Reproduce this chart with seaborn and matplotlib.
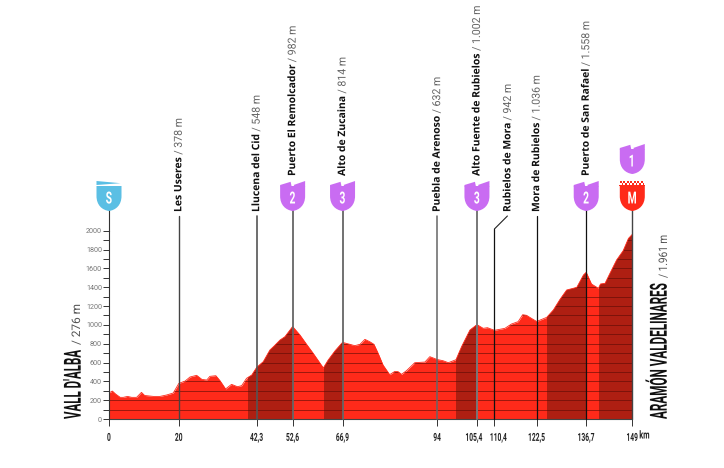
import numpy as np
import matplotlib
matplotlib.use("Agg")
import matplotlib.pyplot as plt
import seaborn as sns
from matplotlib.patches import PathPatch, Polygon, Rectangle
from matplotlib.path import Path
from matplotlib.patheffects import AbstractPathEffect
from matplotlib.transforms import Affine2D, Bbox

# Profile
km = [0, 0.95, 1.9, 3.2, 4.1, 5.3, 6.5, 7.9, 9.3, 10.2, 12.7, 14.6, 16.5, 18.4, 20,
      21.8, 23.2, 25.1, 26.6, 28, 28.9, 30.6, 31.8, 33.4, 35.1, 36.8, 38, 39.4, 40.9, 42.3,
      44.2, 46.1, 47.3, 49, 50.4, 52.6, 54.7, 56.6, 58.5, 61.4, 62.8, 64.8, 66.9, 69,
      70.4, 71.9, 73.3, 74.7, 75.9, 77.1, 78.5, 80.4, 81.9, 82.8, 83.8, 85.2, 87.6, 90.5,
      91.9, 94, 95.7, 97.2, 99.4, 101, 103.4, 105.4, 107.2, 108.4, 110.4, 113.4, 115.3,
      117.2, 118.5, 119.6, 121, 122.5, 125.4, 127.3, 129.2, 131.1, 134, 135.9, 136.7,
      138.2, 140.2, 140.8, 142.1, 143.5, 145.4, 147.3, 148.8, 149.9]
elevation = [276, 297, 265, 230, 230, 240, 230, 230, 283, 250, 240, 240, 255, 276, 378,
             403, 446, 464, 421, 414, 453, 460, 407, 319, 368, 343, 354, 432, 467, 548,
             609, 733, 775, 839, 874, 982, 892, 793, 697, 542, 627, 726, 814, 793,
             779, 793, 846, 821, 793, 697, 573, 471, 506, 503, 474, 513, 598, 605,
             662, 632, 619, 598, 630, 768, 945, 1002, 963, 970, 942, 963, 1009,
             1034, 1108, 1101, 1069, 1036, 1080, 1158, 1271, 1370, 1398, 1529, 1558,
             1434, 1388, 1434, 1441, 1547, 1688, 1788, 1918, 1961]

climb_start = [39.8, 61.5, 99.4, 125.5, 140.3]
climb_end = [52.6, 66.9, 105.4, 136.7, 149.9]

tick_km = [0, 20, 42.3, 52.6, 66.9, 94, 105.4, 110.4, 122.5, 136.7, 149.9]
tick_labels = ["0", "20", "42,3", "52,6", "66,9", "94", "105,4", "110,4", "122,5", "136,7", "149"]
tick_nudge = [0, 0, 0, 0, 0, 0, -3, 4, 0, 0, 0]

place_names = ["Les Useres", "Llucena del Cid", "Puerto El Remolcador", "Alto de Zucaina",
               "Puebla de Arenoso", "Alto Fuente de Rubielos", "Rubielos de Mora",
               "Mora de Rubielos", "Puerto de San Rafael"]
place_heights = ["/ 378 m", "/ 548 m", "/ 982 m", "/ 814 m", "/ 632 m", "/ 1.002 m",
                 "/ 942 m", "/ 1.036 m", "/ 1.558 m"]
place_km = [20, 42.3, 52.6, 66.9, 94, 105.4, 110.4, 122.5, 136.7]
place_base = [212, 212, 176, 176, 212, 176, 212, 212, 176]
place_line_top = [216, 216, 205, 205, 216, 205, 229, 216, 205]
line_colors = ["#444444", "#555555", "#666666", "#666666", "#666666", "#777777", "#111111", "#111111", "#111111"]
line_widths = [1.0, 1.2, 1.3, 1.3, 1.1, 1.4, 0.9, 0.9, 0.9]

badge_km = [0, 52.6, 66.9, 105.4, 136.7, 149.9, 149.9]
badge_text = ["S", "2", "3", "3", "2", "1", "M"]
badge_top = [181, 181, 181, 181, 181, 144, 181]

BLUE = "#5bbfe4"
PURPLE = "#c96cf2"
RED = "#ff2a1a"
DARK = "#ae1f12"

sns.set_style("white")
plt.rcParams["font.family"] = ["Roboto", "DejaVu Sans"]

fig = plt.figure(figsize=(7.24, 4.68), dpi=100)
ax = fig.add_axes([109 / 724, 49 / 468, 523.3 / 724, 188.3 / 468])

# reference picture pixels, y going down
px = Affine2D().scale(1, -1).translate(0, 468)


class Squeeze(AbstractPathEffect):
    # no condensed font installed, so narrow the glyphs along the text direction
    def __init__(self, sx, center=False, nudge=0):
        super().__init__()
        self.sx = sx
        self.center = center
        self.nudge = nudge

    def draw_path(self, renderer, gc, tpath, affine, rgbFace=None):
        shift = (1 - self.sx) * tpath.get_extents().x1 / 2 if self.center else 0
        squeezed = Affine2D().scale(self.sx, 1).translate(shift, 0) + affine + Affine2D().translate(self.nudge, 0)
        renderer.draw_path(gc, tpath, squeezed, rgbFace)


def squeeze_text(t, sx, center=False, nudge=0):
    # the reported extent has to follow the narrowed glyphs too
    t.set_path_effects([Squeeze(sx, center, nudge)])
    full_extent = type(t).get_window_extent.__get__(t)

    def narrow_extent(renderer=None, dpi=None):
        box = full_extent(renderer, dpi)
        if t.get_rotation() == 90:
            return Bbox.from_extents(box.x0, box.y0, box.x1, box.y0 + box.height * sx)
        mid = (box.x0 + box.x1) / 2 + nudge
        if center:
            return Bbox.from_extents(mid - box.width * sx / 2, box.y0, mid + box.width * sx / 2, box.y1)
        return Bbox.from_extents(box.x0, box.y0, box.x0 + box.width * sx, box.y1)

    t.get_window_extent = narrow_extent


def up_text(x, y, string, sx=1.0, **kw):
    t = fig.text(x, y, string, transform=px, rotation=90, rotation_mode="anchor",
                 ha="left", va="baseline", **kw)
    squeeze_text(t, sx)
    return t


sns.lineplot(x=km, y=elevation, color=RED, linewidth=0.6, ax=ax, zorder=3)
ax.fill_between(km, elevation, 0, color=RED, linewidth=0, zorder=2)
clip = Path(np.column_stack([[km[0]] + km + [km[-1]], [0] + elevation + [0]]))
clip_patch = PathPatch(clip, transform=ax.transData, fc="none", ec="none")
ax.add_patch(clip_patch)

for start, end in zip(climb_start, climb_end):
    band = ax.axvspan(start, end, color=DARK, linewidth=0, zorder=2.2)
    band.set_clip_path(clip_patch)

for level in np.arange(100, 2000, 100):
    line = ax.axhline(level, color="#5a0c05", linewidth=0.7, alpha=0.6, zorder=2.5)
    line.set_clip_path(clip_patch)

ax.set_xlim(0, 149.9)
ax.set_ylim(0, 2000)
ax.set_xticks(tick_km)
ax.set_xticklabels(tick_labels, fontsize=8, color="#222222", fontweight="bold")
for tick, nudge in zip(ax.get_xticklabels(), tick_nudge):
    squeeze_text(tick, 0.6, center=True, nudge=nudge)
ax.set_yticks(np.arange(0, 2001, 200))
ax.set_yticks(np.arange(100, 2000, 200), minor=True)
ax.tick_params(axis="y", which="both", direction="out", length=4, width=0.7, color="#333333",
               labelsize=5.2, labelcolor="#777777", pad=1, left=True)
ax.tick_params(axis="x", direction="out", length=5, width=0.7, color="#333333", pad=5, bottom=True)
for side in ["top", "right"]:
    ax.spines[side].set_visible(False)
ax.spines["left"].set_linewidth(0.8)
ax.spines["left"].set_color("#333333")
ax.spines["left"].set_zorder(5)
ax.spines["bottom"].set_linewidth(0.8)
ax.spines["bottom"].set_color("#444444")
ax.patch.set_alpha(0)

fig.canvas.draw()
renderer = fig.canvas.get_renderer()


def km_to_px(value):
    return ax.transData.transform((value, 0))[0]


km_label = fig.text(km_to_px(149.9) + 7, 438.5, "km", transform=px, ha="left", va="baseline",
                    fontsize=8, fontweight="bold", color="#222222")
squeeze_text(km_label, 0.66)

# place lines and rotated labels
for name, height, where, base, top, lc, lw in zip(place_names, place_heights, place_km, place_base,
                                                  place_line_top, line_colors, line_widths):
    x = km_to_px(where)
    fig.add_artist(plt.Line2D([x, x], [419, top], transform=px, color=lc, linewidth=lw, zorder=4))
    text_x = x + 2.5
    if name == "Rubielos de Mora":
        fig.add_artist(plt.Line2D([x, x + 13], [top, 216], transform=px, color="#222222", linewidth=0.8))
        text_x = x + 16
    label = up_text(text_x, base, name, sx=1.01, fontsize=7.4, fontweight="bold", color="#111111",
                    family=["Open Sans", "DejaVu Sans"])
    length = label.get_window_extent(renderer).height
    up_text(text_x + 0.5, base - length - 2.5, height, sx=0.95, fontsize=8, color="#666666")


def shield(cx, top, color, kind):
    # body of the badge, 25 px wide and 30 px tall
    l, r = cx - 12.5, cx + 12.5
    b = top + 30
    s = top + 15
    verts = [(l, top + 5), (r, top + 5), (r, s), (r, s + 9), (cx + 7, b - 1), (cx, b),
             (cx - 7, b - 1), (l, s + 9), (l, s), (l, top + 5)]
    codes = [Path.MOVETO, Path.LINETO, Path.LINETO, Path.CURVE4, Path.CURVE4, Path.CURVE4,
             Path.CURVE4, Path.CURVE4, Path.CURVE4, Path.CLOSEPOLY]
    fig.add_artist(PathPatch(Path(verts, codes), transform=px, fc=color, ec="none", zorder=6))
    if kind == "S":
        fig.add_artist(Polygon([(l, top), (r - 1, top + 2.2), (l, top + 4)], transform=px, fc=color, ec="none", zorder=6))
    elif kind == "M":
        # crenellated top, two rows
        for row in range(2):
            for i in range(7):
                fig.add_artist(Rectangle((l + (i + row / 2) * 3.5, top + row * 1.8), 1.9, 1.8, transform=px,
                                         fc=color, ec="none", zorder=6))
        fig.add_artist(Rectangle((l - 0.5, top + 3.6), 26, 1.5, transform=px, fc=color, ec="none", zorder=6))
    else:
        fig.add_artist(Polygon([(l, top + 4), (cx - 2, top + 0.8), (cx - 1, top + 5.5), (l, top + 5.5)], transform=px,
                               fc=color, ec="none", zorder=6))
        fig.add_artist(Polygon([(cx + 1, top + 4), (r, top), (r, top + 5.5), (cx + 2, top + 5.5)], transform=px,
                               fc=color, ec="none", zorder=6))


for where, text, top in zip(badge_km, badge_text, badge_top):
    cx = km_to_px(where)
    color = BLUE if text == "S" else RED if text == "M" else PURPLE
    shield(cx, top, color, text)
    t = fig.text(cx, top + 18, text, transform=px, ha="center", va="center",
                 fontsize=12, fontweight="bold", color="white", zorder=7)
    squeeze_text(t, 0.62, center=True)

# spine going up to the start badge and the last line up to the finish badge
fig.add_artist(plt.Line2D([km_to_px(0)] * 2, [231, 210], transform=px, color="#333333", linewidth=0.8))
fig.add_artist(plt.Line2D([km_to_px(149.9)] * 2, [419, 210], transform=px, color="#444444", linewidth=1.0, zorder=4))

# start and finish names, squeezed to the lengths in the picture
start = fig.text(80.7, 419, "VALL D'ALBA", transform=px, rotation=90, rotation_mode="anchor",
                 ha="left", va="baseline", fontsize=17, fontweight="bold", color="#111111")
squeeze_text(start, 69 / start.get_window_extent(renderer).height)
up_text(80, 345, "/ 276 m", sx=1.0, fontsize=8.5, color="#555555")

finish = fig.text(666.7, 419, "ARAMÓN VALDELINARES", transform=px, rotation=90, rotation_mode="anchor",
                  ha="left", va="baseline", fontsize=17, fontweight="bold", color="#111111")
squeeze_text(finish, 136 / finish.get_window_extent(renderer).height)
up_text(667, 278, "/ 1.961 m", sx=0.85, fontsize=8.5, color="#555555")

fig.savefig("out.png", dpi=100)
